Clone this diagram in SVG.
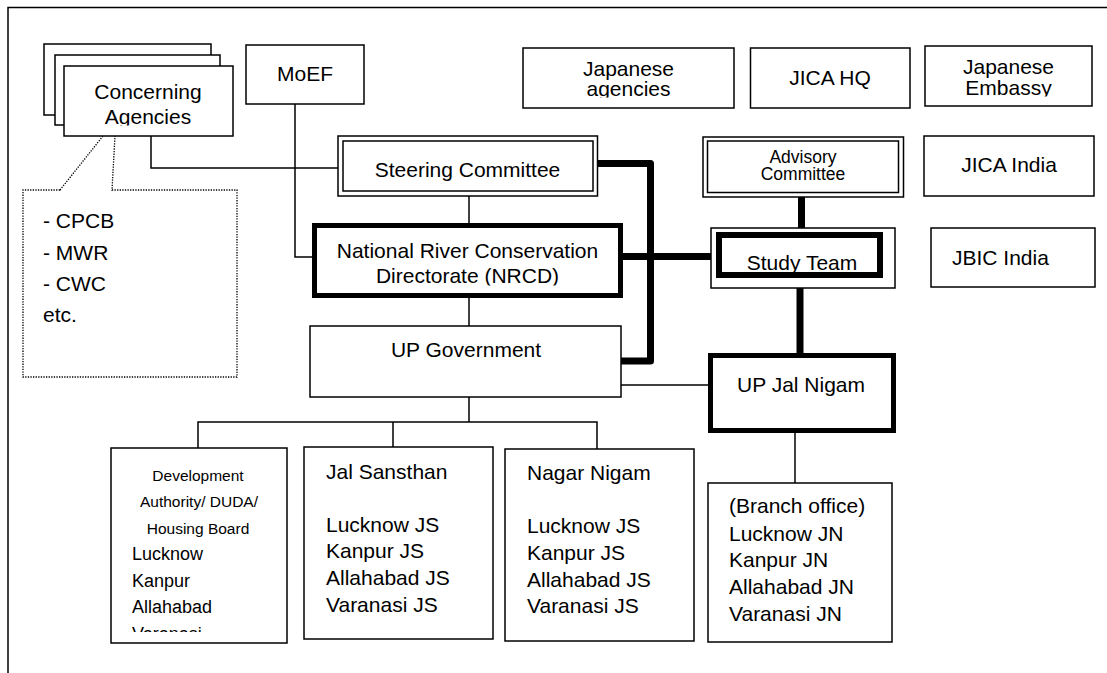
<svg xmlns="http://www.w3.org/2000/svg" width="1107" height="673" viewBox="0 0 1107 673">
<defs>
<style>
text{font-family:"Liberation Sans",Arial,sans-serif;font-size:21px;fill:#000}
.c{text-anchor:middle}
.s{font-size:15.5px}
.m{font-size:18px}
.a{font-size:17.5px}
.box{fill:#fff;stroke:#000;stroke-width:1.5}
.thick{fill:#fff;stroke:#000;stroke-width:5}
.ln{fill:none;stroke:#000;stroke-width:1.5}
.tl{fill:none;stroke:#000;stroke-width:7;stroke-linejoin:round}
.dot{fill:none;stroke:#000;stroke-width:1.3;stroke-dasharray:1.3 1.3}
</style>
<clipPath id="clipAg"><rect x="0" y="0" width="400" height="125.5"/></clipPath>
<clipPath id="clipNr"><rect x="0" y="0" width="700" height="285.5"/></clipPath>
<clipPath id="clipJa"><rect x="0" y="0" width="1107" height="97.5"/></clipPath>
<clipPath id="clipEm"><rect x="0" y="0" width="1107" height="96.5"/></clipPath>
<clipPath id="clipVa"><rect x="0" y="0" width="400" height="632"/></clipPath>
</defs>
<rect x="0" y="0" width="1107" height="673" fill="#fff"/>
<path class="ln" d="M8,673 V7.5 H1107"/>

<g id="connectors">
<path class="ln" d="M151,136 V168 H338"/>
<path class="ln" d="M295,104 V257 H312"/>
<path class="ln" d="M469,196 V223"/>
<path class="ln" d="M469,298 V326"/>
<path class="ln" d="M621,385 H708"/>
<path class="ln" d="M469,397 V422 M198,448 V422 H597 V449 M393,422 V447"/>
<path class="ln" d="M795,433 V483"/>
<path class="tl" d="M598,163.5 H650.5 V361 H619"/>
<path class="tl" d="M623,256.5 H711"/>
<path class="tl" d="M801.5,197 V228"/>
<path class="tl" d="M800,288 V353"/>
<path class="dot" d="M60,190 H23 V377 H237 V190 H112 L115,136 M60,190 L103,136"/>
</g>

<g id="concerning-agencies">
<rect class="box" x="44" y="44" width="167" height="71"/>
<rect class="box" x="55" y="55" width="165" height="70"/>
<rect class="box" x="64" y="66" width="169" height="70"/>
<text class="c" x="148" y="99">Concerning</text>
<text class="c" x="148" y="124" clip-path="url(#clipAg)">Agencies</text>
</g>

<g id="agency-list">
<text x="43" y="228">- CPCB</text>
<text x="43" y="260">- MWR</text>
<text x="43" y="291">- CWC</text>
<text x="43" y="322">etc.</text>
</g>

<g id="moef">
<rect class="box" x="246" y="45" width="118" height="59"/>
<text class="c" x="305" y="81">MoEF</text>
</g>

<g id="steering-committee">
<rect class="box" x="338" y="136" width="259.5" height="60"/>
<rect class="box" x="343" y="141" width="250" height="50"/>
<text class="c" x="467.5" y="177">Steering Committee</text>
</g>

<g id="nrcd">
<rect class="thick" x="314.5" y="225.5" width="306" height="70"/>
<text class="c" x="467.5" y="258">National River Conservation</text>
<text class="c" x="467.5" y="283" clip-path="url(#clipNr)">Directorate (NRCD)</text>
</g>

<g id="up-government">
<rect class="box" x="310" y="326" width="311" height="71"/>
<text class="c" x="466" y="357">UP Government</text>
</g>

<g id="japanese-agencies">
<rect class="box" x="523" y="48" width="211" height="60"/>
<text class="c" x="628.5" y="76">Japanese</text>
<text class="c" x="628.5" y="96" clip-path="url(#clipJa)">agencies</text>
</g>

<g id="jica-hq">
<rect class="box" x="750.5" y="48" width="159.5" height="60"/>
<text class="c" x="830" y="85">JICA HQ</text>
</g>

<g id="japanese-embassy">
<rect class="box" x="925" y="46" width="167" height="60"/>
<text class="c" x="1008.5" y="74">Japanese</text>
<text class="c" x="1008.5" y="95" clip-path="url(#clipEm)">Embassy</text>
</g>

<g id="advisory-committee">
<rect class="box" x="703" y="137" width="200.5" height="60"/>
<rect class="box" x="707.5" y="141" width="191" height="51.5"/>
<text class="c a" x="803" y="163">Advisory</text>
<text class="c a" x="803" y="180">Committee</text>
</g>

<g id="jica-india">
<rect class="box" x="924" y="136" width="170" height="60"/>
<text class="c" x="1009" y="172">JICA India</text>
</g>

<g id="study-team">
<rect class="box" x="711" y="228" width="184" height="60"/>
<rect fill="#fff" stroke="#000" stroke-width="6" x="719" y="235" width="161" height="40"/>
<text class="c" x="802" y="270">Study Team</text>
</g>

<g id="jbic-india">
<rect class="box" x="931" y="228" width="164" height="59"/>
<text x="952" y="265">JBIC India</text>
</g>

<g id="up-jal-nigam">
<rect class="thick" x="710.5" y="355.5" width="183" height="75"/>
<text class="c" x="801" y="392">UP Jal Nigam</text>
</g>

<g id="development-authority">
<rect class="box" x="111" y="448" width="176" height="195"/>
<text class="c s" x="198" y="481">Development</text>
<text class="c s" x="199" y="507">Authority/ DUDA/</text>
<text class="c s" x="198" y="534">Housing Board</text>
<text class="m" x="132" y="560">Lucknow</text>
<text class="m" x="132" y="587">Kanpur</text>
<text class="m" x="132" y="613">Allahabad</text>
<text class="m" x="132" y="640" clip-path="url(#clipVa)">Varanasi</text>
</g>

<g id="jal-sansthan">
<rect class="box" x="304" y="447" width="189" height="192"/>
<text x="326" y="479">Jal Sansthan</text>
<text x="326" y="532">Lucknow JS</text>
<text x="326" y="558">Kanpur JS</text>
<text x="326" y="585">Allahabad JS</text>
<text x="326" y="612">Varanasi JS</text>
</g>

<g id="nagar-nigam">
<rect class="box" x="505" y="449" width="189" height="192"/>
<text x="527" y="480">Nagar Nigam</text>
<text x="527" y="533">Lucknow JS</text>
<text x="527" y="560">Kanpur JS</text>
<text x="527" y="587">Allahabad JS</text>
<text x="527" y="613">Varanasi JS</text>
</g>

<g id="branch-office">
<rect class="box" x="708" y="483" width="184" height="159"/>
<text x="729" y="513">(Branch office)</text>
<text x="729" y="541">Lucknow JN</text>
<text x="729" y="567">Kanpur JN</text>
<text x="729" y="594">Allahabad JN</text>
<text x="729" y="621">Varanasi JN</text>
</g>
</svg>
